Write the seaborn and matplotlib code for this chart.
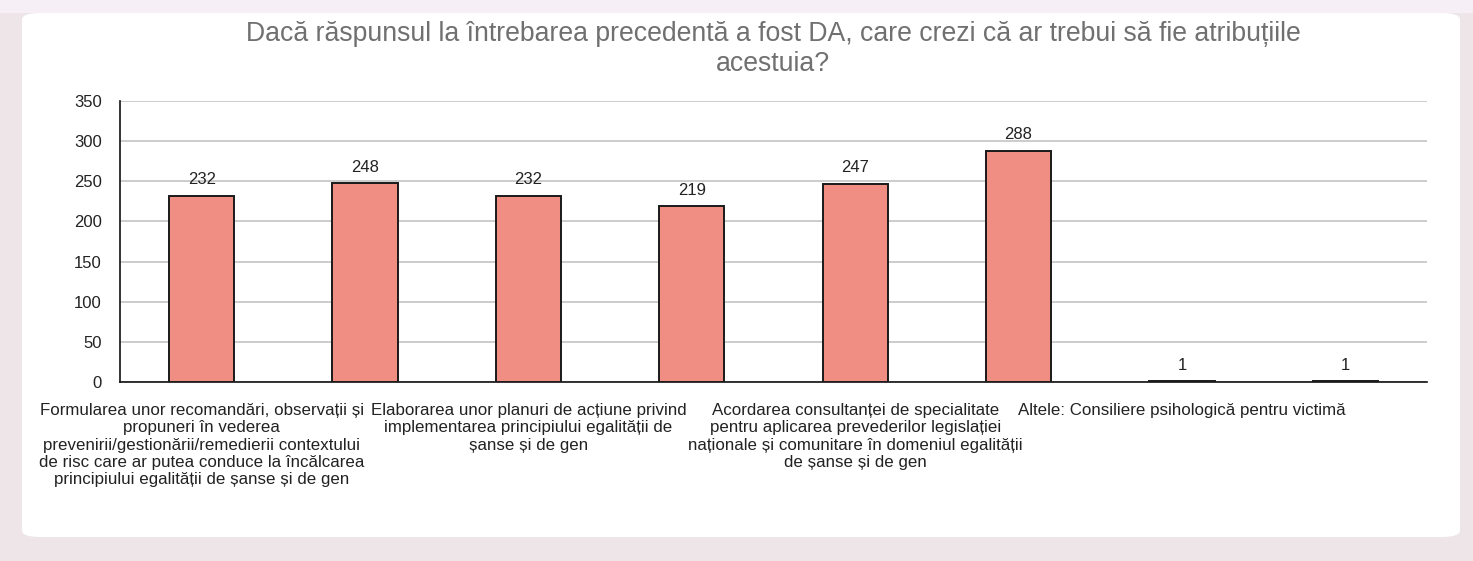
import matplotlib
matplotlib.use("Agg")
import matplotlib.pyplot as plt
import seaborn as sns
import pandas as pd
from matplotlib.patches import FancyBboxPatch, Rectangle

# data
categories = [
    "Formularea unor recomandări",
    "Categoria 2",
    "Elaborarea unor planuri",
    "Categoria 4",
    "Acordarea consultanței",
    "Categoria 6",
    "Altele: Consiliere psihologică",
    "Categoria 8",
]
values = [232, 248, 232, 219, 247, 288, 1, 1]
# only every other category label is shown in the original chart
tick_labels = [
    "Formularea unor recomandări, observații și\npropuneri în vederea\n"
    "prevenirii/gestionării/remedierii contextului\nde risc care ar putea conduce la încălcarea\n"
    "principiului egalității de șanse și de gen",
    "",
    "Elaborarea unor planuri de acțiune privind\nimplementarea principiului egalității de\nșanse și de gen",
    "",
    "Acordarea consultanței de specialitate\npentru aplicarea prevederilor legislației\n"
    "naționale și comunitare în domeniul egalității\nde șanse și de gen",
    "",
    "Altele: Consiliere psihologică pentru victimă",
    "",
]
title = "Dacă răspunsul la întrebarea precedentă a fost DA, care crezi că ar trebui să fie atribuțiile\nacestuia?"

sns.set_theme(style="white")
plt.rcParams["font.family"] = ["Liberation Sans", "DejaVu Sans"]

W, H = 1473, 561
fig = plt.figure(figsize=(W / 100, H / 100), dpi=100)
fig.patch.set_facecolor("#ede5e7")

# page background bands and white card
fig.add_artist(Rectangle((0, 1 - 13 / H), 1, 13 / H, transform=fig.transFigure,
                         facecolor="#f6eff6", edgecolor="none", zorder=0))
fig.add_artist(FancyBboxPatch((22 / W, 1 - 537 / H), (1460 - 22) / W, (537 - 13) / H,
                              boxstyle="round,pad=0,rounding_size=0.012",
                              transform=fig.transFigure, facecolor="white",
                              edgecolor="none", zorder=0))

ax = fig.add_axes([120 / W, 1 - 382 / H, (1427 - 120) / W, (382 - 101) / H])
ax.set_facecolor("white")
ax.patch.set_alpha(0)

df = pd.DataFrame({"cat": categories, "val": values})
sns.barplot(data=df, x="cat", y="val", order=categories, color="#f08e84",
            saturation=1, width=0.4, edgecolor="#1a1a1a", linewidth=1.4, ax=ax, zorder=3)

for c in ax.containers:
    ax.bar_label(c, padding=6, fontsize=12, color="#222222")

ax.set_ylim(0, 350)
ax.set_yticks(range(0, 351, 50))
ax.grid(axis="y", color="#c4c4c4", linewidth=1.2, zorder=0)
ax.set_axisbelow(True)
ax.set_xticks(range(len(categories)))
ax.set_xticklabels(tick_labels, fontsize=12.2, color="#222222", linespacing=1.2,
                   ha="center", va="top")
ax.tick_params(axis="y", labelsize=12, colors="#222222", length=0, pad=13)
ax.tick_params(axis="x", length=0, pad=15)
ax.set_xlabel("")
ax.set_ylabel("")
for s in ["top", "right"]:
    ax.spines[s].set_visible(False)
ax.spines["left"].set_color("#111111")
ax.spines["bottom"].set_color("#111111")
ax.spines["left"].set_linewidth(1.2)
ax.spines["bottom"].set_linewidth(1.2)
ax.set_xlim(-0.5, len(categories) - 0.5)

fig.text(773 / W, 1 - 49 / H, title, ha="center", va="center", fontsize=19.2,
         color="#707070", linespacing=1.22)

fig.savefig("out.png", dpi=100, facecolor=fig.get_facecolor())
